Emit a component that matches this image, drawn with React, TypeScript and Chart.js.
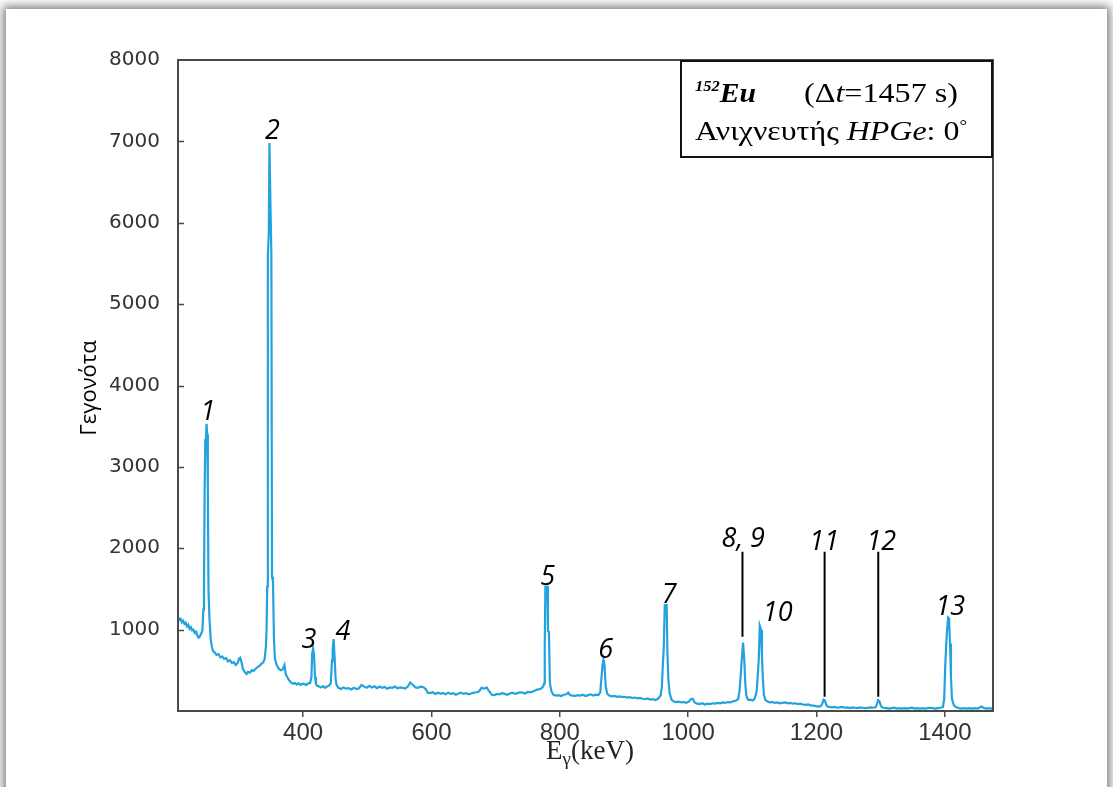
import React, { useEffect, useRef } from "react";
import { Chart, registerables } from "chart.js";

Chart.register(...registerables);

const energies = [
  205, 207, 209, 211, 213, 215, 217, 219, 221, 223,
  225, 227, 229, 231, 233, 235, 237, 239, 241, 243,
  244.5, 245.5, 246.5, 247.5, 248.5, 249.5, 250.5, 251.5, 252.5, 254,
  256, 258, 260, 262, 265, 268, 271, 274, 277, 280,
  283, 286, 289, 292, 295, 298, 300, 302, 304, 306,
  308, 310, 312, 314, 317, 320, 323, 326, 329, 332,
  335, 338, 340, 342, 343, 344, 345, 346.5, 347.5, 349,
  350.5, 351.5, 353, 354.5, 356, 359, 362, 365, 368, 371,
  373, 375, 378, 381, 384, 387, 390, 393, 396, 399,
  402, 405, 408, 411, 413, 414, 415.5, 417, 418.5, 420,
  422, 425, 428, 431, 434, 437, 440, 443, 445, 446,
  447.5, 449, 450.5, 452, 455, 459, 463, 467, 471, 475,
  479, 483, 487, 491, 495, 499, 503, 507, 511, 515,
  519, 523, 527, 531, 535, 539, 543, 547, 551, 555,
  559, 563, 567, 571, 575, 579, 583, 587, 591, 594,
  598, 602, 606, 610, 614, 618, 622, 626, 630, 634,
  638, 642, 646, 650, 654, 658, 662, 666, 670, 674,
  678, 682, 686, 690, 694, 698, 702, 706, 710, 714,
  718, 722, 726, 730, 734, 738, 742, 746, 750, 754,
  758, 762, 766, 770, 774, 775.5, 776.5, 777.5, 780.5, 781.5,
  783, 784.5, 787, 790, 794, 798, 802, 806, 810, 813,
  816, 820, 824, 828, 832, 836, 840, 844, 848, 852,
  856, 860, 863, 865, 866.5, 868, 869.5, 871.5, 874, 877,
  881, 885, 889, 893, 897, 901, 905, 909, 913, 917,
  921, 925, 929, 933, 937, 941, 945, 949, 953, 957,
  959, 960.5, 962, 963.5, 966.5, 967.5, 969, 971, 974, 977,
  981, 985, 989, 993, 997, 1001, 1004, 1007, 1010, 1014,
  1018, 1022, 1026, 1030, 1034, 1038, 1042, 1046, 1050, 1054,
  1058, 1062, 1066, 1070, 1074, 1078, 1080, 1081.5, 1083.5, 1085.5,
  1087.5, 1089, 1090.5, 1092, 1094, 1097, 1100, 1103, 1105.5, 1107,
  1108.5, 1110, 1111.5, 1113.5, 1115, 1116.5, 1118, 1120, 1123, 1127,
  1131, 1135, 1139, 1143, 1147, 1151, 1155, 1159, 1163, 1167,
  1171, 1175, 1179, 1183, 1187, 1191, 1195, 1199, 1203, 1207,
  1209, 1211, 1213, 1215, 1217, 1220, 1224, 1228, 1232, 1236,
  1240, 1244, 1248, 1252, 1256, 1260, 1264, 1268, 1272, 1276,
  1280, 1284, 1288, 1292, 1294, 1296, 1298, 1300, 1302, 1305,
  1309, 1313, 1317, 1321, 1325, 1329, 1333, 1337, 1341, 1345,
  1349, 1353, 1357, 1361, 1365, 1369, 1373, 1377, 1381, 1385,
  1389, 1393, 1397, 1399, 1400.5, 1402, 1403.5, 1405, 1406.5, 1408,
  1409.5, 1411, 1414, 1418, 1422, 1426, 1430, 1434, 1438, 1442,
  1446, 1450, 1454, 1457, 1460, 1464, 1468, 1472, 1475,
];

// Counts per channel (same line layout as energies)
const counts = [
  1150, 1120, 1135, 1090, 1110, 1070, 1085, 1040, 1060, 1010,
  1030, 990, 1000, 960, 975, 930, 900, 915, 950, 985,
  1250, 1520, 2720, 3330, 3340, 3530, 3400, 2720, 1500, 1140,
  880, 780, 730, 720, 690, 700, 660, 670, 640, 650,
  610, 625, 590, 600, 565, 590, 640, 655, 600, 520,
  490, 470, 455, 480, 470, 500, 495, 520, 540, 555,
  580, 600, 640, 790, 1000, 1530, 5600, 5870, 6980, 6250,
  5600, 1650, 1600, 900, 640, 560, 520, 500, 510, 565,
  450, 420, 380, 350, 335, 345, 325, 340, 320, 335,
  330, 320, 340, 345, 420, 700, 770, 690, 420, 330,
  310, 300, 290, 305, 285, 300, 310, 340, 620, 760,
  885, 670, 410, 320, 285, 270, 290, 275, 280, 265,
  285, 270, 280, 320, 300, 285, 310, 290, 305, 280,
  300, 285, 295, 275, 290, 285, 300, 280, 290, 285,
  275, 300, 350, 320, 290, 285, 300, 295, 270, 225,
  220, 230, 210, 225, 215, 220, 205, 225, 210, 220,
  200, 215, 225, 210, 220, 205, 215, 225, 230, 240,
  285, 275, 290, 240, 200, 195, 210, 205, 220, 210,
  200, 215, 225, 210, 220, 230, 225, 215, 235, 230,
  240, 255, 265, 270, 300, 340, 810, 1530, 1530, 980,
  975, 340, 240, 200, 190, 195, 185, 200, 205, 225,
  195, 190, 185, 195, 190, 200, 185, 195, 205, 190,
  200, 195, 230, 420, 560, 630, 570, 300, 210, 190,
  180, 185, 175, 180, 170, 175, 165, 170, 160, 165,
  155, 160, 150, 145, 155, 140, 145, 135, 150, 190,
  300, 560, 790, 1300, 1300, 760, 400, 220, 140, 120,
  110, 115, 105, 110, 100, 115, 145, 150, 105, 90,
  85, 95, 80, 90, 85, 95, 90, 100, 95, 105,
  100, 110, 105, 120, 125, 150, 250, 400, 630, 840,
  620, 340, 200, 160, 135, 140, 130, 145, 200, 260,
  450, 630, 1050, 1000, 670, 380, 200, 140, 120, 105,
  110, 100, 105, 95, 100, 105, 95, 100, 90, 95,
  85, 90, 80, 75, 80, 70, 65, 60, 55, 60,
  90, 140, 130, 80, 55, 50, 45, 50, 40, 45,
  50, 40, 45, 35, 45, 40, 35, 45, 40, 35,
  40, 45, 40, 45, 80, 135, 120, 70, 45, 40,
  35, 30, 35, 40, 30, 35, 30, 35, 30, 35,
  40, 30, 35, 30, 35, 30, 35, 40, 35, 30,
  35, 40, 50, 150, 545, 800, 1000, 1150, 1140, 830,
  420, 150, 70, 45, 35, 30, 35, 30, 35, 30,
  35, 30, 40, 55, 40, 30, 35, 30, 35,
];

const xTickValues = [400, 600, 800, 1000, 1200, 1400];
const yTickValues = [0, 1000, 2000, 3000, 4000, 5000, 6000, 7000, 8000];

// Peak numbering labels (text centre, in data units)
const peakLabels = ["1", "2", "3", "4", "5", "6", "7", "8, 9", "10", "11", "12", "13"];
const peakLabelE = [251.8, 352.3, 408.9, 462.2, 781, 871.4, 970.4, 1085.8, 1139.5, 1212, 1300.9, 1408.4];
const peakLabelC = [3693, 7147, 893, 985, 1671, 768, 1446, 2132, 1220, 2102, 2102, 1303];

// Leader lines for weak peaks
const leaderE = [1084.6, 1212.6, 1296.2];
const leaderTop = [1958, 1958, 1958];
const leaderBottom = [913, 176, 176];

const X_MIN = 205;
const X_MAX = 1475;
const Y_MIN = 0;
const Y_MAX = 8000;

const serif = "'Liberation Serif', 'Times New Roman', serif";

type Run = { text: string; font: string; dy?: number };

function runsWidth(ctx: CanvasRenderingContext2D, runs: Run[]) {
  let w = 0;
  for (const r of runs) {
    ctx.font = r.font;
    w += ctx.measureText(r.text).width;
  }
  return w;
}

function drawRuns(ctx: CanvasRenderingContext2D, runs: Run[], x: number, y: number, sx: number) {
  ctx.save();
  ctx.translate(x, y);
  ctx.scale(sx, 1);
  let cx = 0;
  for (const r of runs) {
    ctx.font = r.font;
    ctx.fillText(r.text, cx, r.dy || 0);
    cx += ctx.measureText(r.text).width;
  }
  ctx.restore();
}

function fitRuns(ctx: CanvasRenderingContext2D, runs: Run[], x: number, y: number, target: number) {
  const w = runsWidth(ctx, runs);
  drawRuns(ctx, runs, x, y, target / w);
}

const overlay = {
  id: "overlay",
  afterDraw(chart: any) {
    const { ctx, chartArea: a, scales } = chart;
    const xs = scales.x;
    const ys = scales.y;
    ctx.save();

    // frame
    ctx.strokeStyle = "#4a4a4a";
    ctx.lineWidth = 2;
    ctx.strokeRect(a.left, a.top, a.right - a.left, a.bottom - a.top);

    // inward y ticks
    ctx.lineWidth = 1.5;
    ctx.beginPath();
    for (const v of yTickValues) {
      if (v === Y_MIN || v === Y_MAX) continue;
      const py = Math.round(ys.getPixelForValue(v)) + 0.5;
      ctx.moveTo(a.left, py);
      ctx.lineTo(a.left + 6, py);
    }
    ctx.stroke();

    // leader lines
    ctx.strokeStyle = "#000";
    ctx.lineWidth = 2;
    ctx.beginPath();
    for (let i = 0; i < leaderE.length; i++) {
      const px = xs.getPixelForValue(leaderE[i]);
      ctx.moveTo(px, ys.getPixelForValue(leaderTop[i]));
      ctx.lineTo(px, ys.getPixelForValue(leaderBottom[i]));
    }
    ctx.stroke();

    // peak labels
    ctx.fillStyle = "#000";
    const fs = 27;
    ctx.font = `italic ${fs}px 'Open Sans', 'DejaVu Sans', sans-serif`;
    ctx.textAlign = "center";
    ctx.textBaseline = "alphabetic";
    for (let i = 0; i < peakLabels.length; i++) {
      const px = xs.getPixelForValue(peakLabelE[i]);
      const py = ys.getPixelForValue(peakLabelC[i]) + fs * 0.357;
      ctx.fillText(peakLabels[i], px, py);
    }

    // info box
    ctx.fillStyle = "#fff";
    ctx.fillRect(681, 61, 311, 96);
    ctx.strokeStyle = "#111";
    ctx.lineWidth = 2;
    ctx.strokeRect(681, 61, 311, 96);
    ctx.fillStyle = "#000";
    ctx.textAlign = "left";
    drawRuns(
      ctx,
      [
        { text: "152", font: `bold italic 15px ${serif}`, dy: -11 },
        { text: "Eu", font: `bold italic 27px ${serif}` },
      ],
      695,
      102,
      1.1
    );
    fitRuns(
      ctx,
      [
        { text: "(Δ", font: `27px ${serif}` },
        { text: "t", font: `italic 27px ${serif}` },
        { text: "=1457 s)", font: `27px ${serif}` },
      ],
      804,
      102,
      154
    );
    fitRuns(
      ctx,
      [
        { text: "Ανιχνευτής ", font: `27px ${serif}` },
        { text: "HPGe", font: `italic 27px ${serif}` },
        { text: ": 0", font: `27px ${serif}` },
        { text: "°", font: `16px ${serif}`, dy: -9 },
      ],
      695,
      140,
      272
    );

    // y axis title
    ctx.save();
    ctx.translate(90, 388);
    ctx.rotate(-Math.PI / 2);
    ctx.textAlign = "center";
    ctx.textBaseline = "middle";
    ctx.font = "22px 'Open Sans', 'DejaVu Sans', sans-serif";
    ctx.fillText("Γεγονότα", 0, 0);
    ctx.restore();

    // x axis title  E_γ(keV)
    ctx.fillStyle = "#222";
    const xRuns: Run[] = [
      { text: "E", font: `27px ${serif}` },
      { text: "γ", font: `19px ${serif}`, dy: 6 },
      { text: "(keV)", font: `27px ${serif}` },
    ];
    const w = runsWidth(ctx, xRuns);
    drawRuns(ctx, xRuns, 590 - w / 2, 759, 1);

    ctx.restore();
  },
};

export default function App() {
  const ref = useRef<HTMLCanvasElement | null>(null);

  useEffect(() => {
    if (!ref.current) return;
    const points = energies.map((e, i) => ({ x: e, y: counts[i] }));
    const chart = new Chart(ref.current, {
      type: "line",
      data: {
        datasets: [
          {
            data: points,
            borderColor: "#22a3dd",
            borderWidth: 2.2,
            pointRadius: 0,
            tension: 0,
            fill: false,
          },
        ],
      },
      options: {
        animation: false,
        responsive: false,
        layout: { padding: { top: 60, right: 120, left: 0, bottom: 0 } },
        plugins: {
          legend: { display: false },
          tooltip: { enabled: false },
          title: { display: false },
        },
        scales: {
          x: {
            type: "linear",
            min: X_MIN,
            max: X_MAX,
            afterBuildTicks: (s: any) => {
              s.ticks = xTickValues.map((v) => ({ value: v }));
            },
            afterFit: (s: any) => {
              s.height = 76;
            },
            grid: {
              display: true,
              drawOnChartArea: false,
              drawTicks: true,
              tickLength: 6,
              color: "#4a4a4a",
              lineWidth: 1.5,
            },
            border: { display: false },
            ticks: {
              color: "#333",
              font: { family: "'Liberation Sans Narrow', 'Liberation Sans', sans-serif", size: 24 },
              padding: 2,
              maxRotation: 0,
              autoSkip: false,
              callback: (v: any) => String(v),
            },
          },
          y: {
            type: "linear",
            min: Y_MIN,
            max: Y_MAX,
            afterBuildTicks: (s: any) => {
              s.ticks = yTickValues.map((v) => ({ value: v }));
            },
            afterFit: (s: any) => {
              s.width = 178;
            },
            grid: { display: false },
            border: { display: false },
            ticks: {
              color: "#333",
              font: { family: "'DejaVu Sans', sans-serif", size: 20 },
              padding: 10,
              callback: (v: any) => (v === 0 ? "" : String(v)),
            },
          },
        },
      },
      plugins: [overlay],
    });
    return () => chart.destroy();
  }, []);

  return (
    <div
      style={{
        position: "fixed",
        left: 0,
        top: 0,
        width: 1113,
        height: 787,
        background: "#fff",
        overflow: "hidden",
      }}
    >
      <div
        style={{
          position: "absolute",
          left: 6,
          top: 9,
          width: 1101,
          height: 830,
          background: "#fff",
          boxShadow: "0 0 9px 3px rgba(0,0,0,0.5)",
        }}
      />
      <canvas
        ref={ref}
        width={1113}
        height={787}
        style={{ position: "absolute", left: 0, top: 0 }}
      />
    </div>
  );
}
